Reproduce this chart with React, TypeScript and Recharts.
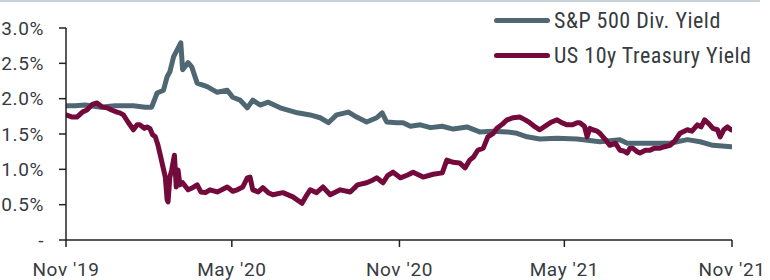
import React from 'react';
import { LineChart, Line, XAxis, YAxis, Legend } from 'recharts';

// Days since 1 Nov 2019
const spDays = [0, 10, 21, 37, 54, 74, 87, 94, 100, 107, 111, 114, 118, 122, 126, 128, 134, 138, 144, 155, 166, 177, 183, 191, 199, 205, 213, 222, 235, 254, 268, 279, 288, 297, 310, 319, 330, 341, 347, 352, 363, 370, 378, 389, 400, 413, 425, 440, 454, 469, 484, 495, 506, 520, 539, 561, 586, 608, 616, 641, 663, 682, 696, 710, 730];
const spYield = [1.90, 1.90, 1.91, 1.88, 1.90, 1.90, 1.88, 1.88, 2.08, 2.12, 2.31, 2.38, 2.59, 2.69, 2.79, 2.41, 2.51, 2.45, 2.22, 2.17, 2.09, 2.12, 2.02, 1.98, 1.87, 1.98, 1.91, 1.95, 1.87, 1.80, 1.77, 1.73, 1.66, 1.77, 1.81, 1.74, 1.67, 1.73, 1.80, 1.67, 1.66, 1.66, 1.61, 1.63, 1.59, 1.61, 1.57, 1.60, 1.53, 1.54, 1.53, 1.51, 1.46, 1.43, 1.44, 1.43, 1.39, 1.42, 1.37, 1.37, 1.37, 1.42, 1.39, 1.34, 1.32];

const tyDays = [0, 7, 12, 18, 23, 29, 34, 40, 45, 50, 56, 59, 63, 68, 74, 78, 81, 86, 89, 92, 95, 98, 101, 103, 106, 109, 111, 112, 114, 116, 119, 121, 123, 125, 128, 134, 139, 144, 148, 153, 158, 166, 171, 177, 183, 188, 194, 199, 202, 205, 211, 216, 222, 227, 238, 249, 259, 263, 268, 275, 282, 290, 301, 312, 320, 330, 337, 341, 348, 353, 359, 367, 375, 381, 392, 403, 413, 418, 425, 432, 438, 443, 447, 452, 458, 463, 469, 473, 479, 484, 491, 498, 504, 509, 515, 520, 528, 533, 539, 544, 550, 556, 561, 564, 569, 572, 575, 578, 583, 586, 592, 597, 603, 608, 612, 616, 619, 622, 627, 630, 636, 641, 646, 652, 657, 663, 668, 674, 682, 687, 693, 697, 701, 706, 710, 715, 718, 722, 726, 730];
const tyYield = [1.77, 1.74, 1.74, 1.81, 1.84, 1.92, 1.94, 1.88, 1.87, 1.84, 1.81, 1.80, 1.77, 1.67, 1.56, 1.63, 1.63, 1.58, 1.60, 1.58, 1.49, 1.46, 1.34, 1.23, 1.06, 0.89, 0.57, 0.54, 0.89, 0.99, 1.20, 0.75, 0.99, 0.78, 0.81, 0.71, 0.74, 0.78, 0.68, 0.67, 0.71, 0.68, 0.71, 0.75, 0.69, 0.71, 0.75, 0.88, 0.89, 0.71, 0.68, 0.74, 0.67, 0.64, 0.67, 0.61, 0.52, 0.61, 0.71, 0.67, 0.75, 0.64, 0.71, 0.68, 0.78, 0.81, 0.85, 0.88, 0.81, 0.91, 0.96, 0.88, 0.92, 0.96, 0.89, 0.93, 0.95, 1.13, 1.10, 1.09, 1.02, 1.13, 1.17, 1.27, 1.30, 1.46, 1.51, 1.58, 1.64, 1.70, 1.73, 1.74, 1.70, 1.66, 1.60, 1.56, 1.63, 1.67, 1.70, 1.66, 1.63, 1.63, 1.66, 1.66, 1.61, 1.46, 1.58, 1.56, 1.54, 1.51, 1.42, 1.34, 1.37, 1.27, 1.26, 1.23, 1.30, 1.30, 1.25, 1.23, 1.27, 1.27, 1.30, 1.30, 1.32, 1.34, 1.40, 1.51, 1.56, 1.54, 1.63, 1.60, 1.70, 1.64, 1.58, 1.56, 1.46, 1.56, 1.60, 1.56];

const xTickDays = [0, 182, 366, 547, 731];
const xTickLabels = ["Nov '19", "May '20", "Nov '20", "May '21", "Nov '21"];
const yTicks = [0, 0.5, 1.0, 1.5, 2.0, 2.5, 3.0];

const seriesNames = ['S&P 500 Div. Yield', 'US 10y Treasury Yield'];
const seriesColors = ['#4f6773', '#730a3b'];

const spData = spDays.map((d, i) => ({ day: d, value: spYield[i] }));
const tyData = tyDays.map((d, i) => ({ day: d, value: tyYield[i] }));

const tickStyle = { fontFamily: 'Roboto, "Liberation Sans", sans-serif', fontSize: 19, fill: '#363b40', letterSpacing: 0.6 };
const legendFont = '"Liberation Sans Narrow", "Roboto Condensed", "DejaVu Sans Condensed", sans-serif';

const renderLegend = (props: any) => {
  const { payload } = props;
  return (
    <div>
      {(payload || []).map((entry: any, i: number) => (
        <div key={i} style={{ display: 'flex', alignItems: 'center', height: 35 }}>
          <div style={{ width: 56, height: 5, borderRadius: 3, background: entry.color, marginRight: 4 }} />
          <span style={{ fontFamily: legendFont, fontSize: 22, color: '#363b40', letterSpacing: 0.5, whiteSpace: 'nowrap' }}>
            {entry.value}
          </span>
        </div>
      ))}
    </div>
  );
};

export default function App() {
  return (
    <div style={{ position: 'absolute', left: 0, top: 0, width: 770, height: 280, overflow: 'hidden', background: '#fff' }}>
      <div style={{ position: 'absolute', left: 0, top: 0, width: 760, height: 2, background: '#c8d2d9' }} />
      <LineChart width={770} height={280} margin={{ top: 28, right: 38, bottom: 0, left: 0 }}>
        <XAxis
          type="number"
          dataKey="day"
          domain={[0, 731]}
          ticks={xTickDays}
          tickFormatter={(v: number) => xTickLabels[xTickDays.indexOf(v)] ?? ''}
          height={40}
          tickSize={7}
          tickMargin={16}
          axisLine={{ stroke: '#222', strokeWidth: 1.5 }}
          tickLine={{ stroke: '#222', strokeWidth: 1.5 }}
          tick={tickStyle}
          interval={0}
          allowDataOverflow
        />
        <YAxis
          type="number"
          domain={[0, 3]}
          ticks={yTicks}
          tickFormatter={(v: number) => (v === 0 ? '-' : v.toFixed(1) + '%')}
          width={66}
          tickSize={7}
          tickMargin={15}
          axisLine={{ stroke: '#222', strokeWidth: 1.5 }}
          tickLine={{ stroke: '#222', strokeWidth: 1.5 }}
          tick={tickStyle}
          interval={0}
        />
        <Legend
          layout="vertical"
          align="center"
          verticalAlign="middle"
          content={renderLegend}
          wrapperStyle={{ left: 494, top: 3, width: 276 }}
        />
        <Line
          data={spData}
          dataKey="value"
          name={seriesNames[0]}
          stroke={seriesColors[0]}
          strokeWidth={5}
          dot={false}
          type="linear"
          strokeLinejoin="round"
          strokeLinecap="round"
          isAnimationActive={false}
        />
        <Line
          data={tyData}
          dataKey="value"
          name={seriesNames[1]}
          stroke={seriesColors[1]}
          strokeWidth={5}
          dot={false}
          type="linear"
          strokeLinejoin="round"
          strokeLinecap="round"
          isAnimationActive={false}
        />
      </LineChart>
    </div>
  );
}
